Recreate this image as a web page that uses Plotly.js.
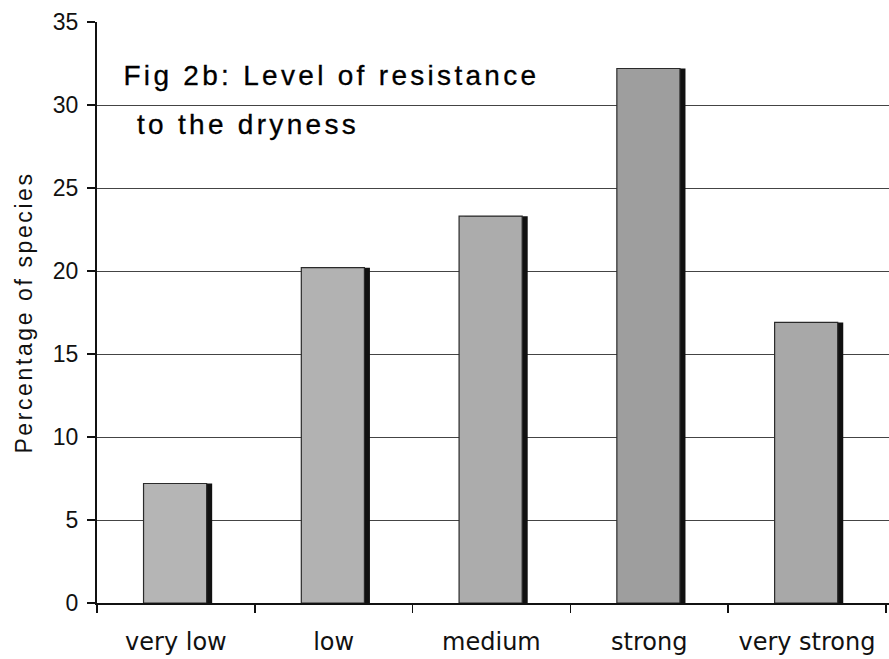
<!DOCTYPE html>
<html>
<head>
<meta charset="utf-8">
<script src="https://cdn.plot.ly/plotly-3.0.1.min.js"></script>
<style>
html,body{margin:0;padding:0;background:#fff;overflow:hidden}
#chart{width:889px;height:659px}
#chart .annotation-text{letter-spacing:3.3px;stroke:#000;stroke-width:0.3px}
#chart .ytitle{letter-spacing:2.6px}
</style>
</head>
<body>
<div id="chart"></div>
<script>
const categories = ["very low", "low", "medium", "strong", "very strong"];
const percentages = [7.2, 20.2, 23.3, 32.2, 16.9];
const yTicks = [0, 5, 10, 15, 20, 25, 30, 35];
const titleLines = ["Fig 2b: Level of resistance", "to the dryness"];
const barColors = ["#b5b5b5", "#b2b2b2", "#acacac", "#9e9e9e", "#a8a8a8"];

const shadow = {
  type: "bar", x: categories, y: percentages,
  width: 0.4, offset: -0.17,
  marker: {color: "#111", line: {width: 0}},
  hoverinfo: "skip", showlegend: false
};
const bars = {
  type: "bar", x: categories, y: percentages,
  width: 0.4, offset: -0.205,
  marker: {color: barColors, line: {color: "#2a2a2a", width: 1.2}},
  showlegend: false
};

const titleFont = {family: "Liberation Sans, Arial, sans-serif", size: 28, color: "#000"};

const layout = {
  width: 889, height: 659,
  margin: {l: 97, r: 0, t: 22, b: 56},
  paper_bgcolor: "#fff", plot_bgcolor: "#fff",
  barmode: "overlay",
  font: {family: "Liberation Sans, Arial, sans-serif", color: "#111"},
  xaxis: {
    type: "category", range: [-0.5, 4.52],
    tickson: "boundaries", ticks: "outside", ticklen: 8, tickcolor: "#111", tickwidth: 1.5,
    showline: true, linecolor: "#111", linewidth: 2,
    showgrid: false, zeroline: false,
    tickfont: {family: "DejaVu Sans, Verdana, sans-serif", size: 24, color: "#111"},
    ticklabelstandoff: 16
  },
  yaxis: {
    range: [0, 35], tickvals: yTicks, ticktext: yTicks.map(String),
    ticks: "outside", ticklen: 8, tickcolor: "#111", tickwidth: 1.5,
    showline: true, linecolor: "#111", linewidth: 2,
    showgrid: true, gridcolor: "#444", gridwidth: 1, zeroline: false,
    tickfont: {family: "Liberation Sans, Arial, sans-serif", size: 23, color: "#111"},
    ticklabelstandoff: 4,
    title: {text: "Percentage of species", font: {family: "Liberation Sans, Arial, sans-serif", size: 23, color: "#111"}, standoff: 14}
  },
  annotations: [
    {xref: "paper", yref: "y", x: 0.296, y: 31.75, xanchor: "center", yanchor: "middle",
     showarrow: false, text: titleLines[0], font: titleFont},
    {xref: "paper", yref: "y", x: 0.191, y: 28.8, xanchor: "center", yanchor: "middle",
     showarrow: false, text: titleLines[1], font: titleFont}
  ]
};

Plotly.newPlot("chart", [shadow, bars], layout, {displayModeBar: false, staticPlot: true});
</script>
</body>
</html>
